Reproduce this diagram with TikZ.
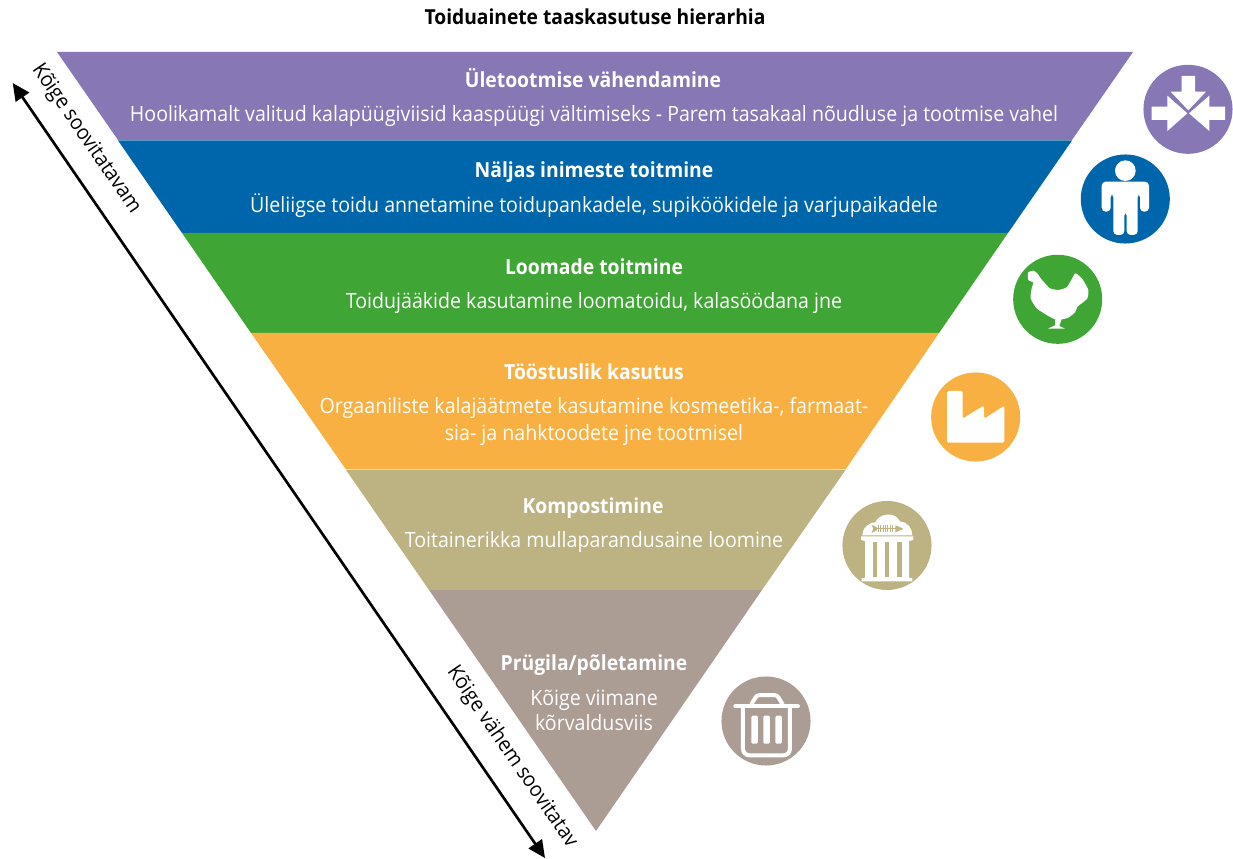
\documentclass[tikz,border=0pt]{standalone}
\usepackage{fontspec}
\setmainfont[FakeStretch=0.93]{Open Sans}
\usetikzlibrary{arrows.meta}
\definecolor{cpurple}{HTML}{8778B5}
\definecolor{cblue}{HTML}{0066AB}
\definecolor{cgreen}{HTML}{3FA535}
\definecolor{corange}{HTML}{F8B042}
\definecolor{ckhaki}{HTML}{BDB281}
\definecolor{ctaupe}{HTML}{AB9C94}
\tikzset{
  head/.style={anchor=base,text=white,font=\fontsize{15.6}{18}\selectfont\bfseries,inner sep=0pt},
  sub/.style={anchor=base,text=white,font=\fontsize{15.8}{18}\selectfont,inner sep=0pt},
  side/.style={text=black,font=\fontsize{15.7}{18}\selectfont,inner sep=0pt,rotate=-55.5},
  badge/.style={circle,inner sep=0pt,minimum size=66.8pt},
  icon/.style={x=.25pt,y=-.25pt},
  ink/.style={fill=white,draw=none},
}
\begin{document}
\begin{tikzpicture}[x=.75pt,y=-.75pt]
\useasboundingbox (0,0) rectangle (1233,859);
% bands
\fill[cpurple] (57,52) -- (1133,52) -- (1072,140) -- (118,140) -- cycle;
\fill[cblue] (118,140.5) -- (1072,140.5) -- (1008,233) -- (182,233) -- cycle;
\fill[cgreen] (182,233) -- (1008,233) -- (939,333) -- (251,333) -- cycle;
\fill[corange] (251,333) -- (939,333) -- (845.5,469.5) -- (346,469.5) -- cycle;
\fill[ckhaki] (346,470) -- (845.5,470) -- (762,590) -- (429,590) -- cycle;
\fill[ctaupe] (429,590) -- (762,590) -- (596,831) -- cycle;
% title
\node[anchor=base,text=black,inner sep=0pt,font=\fontsize{15.5}{18}\selectfont\bfseries] (title) at (595,25) {Toiduainete taaskasutuse hierarhia};
% band texts
\node[head] (h1) at (593,88) {Ületootmise vähendamine};
\node[sub] (s1) at (594,122) {Hoolikamalt valitud kalapüügiviisid kaaspüügi vältimiseks - Parem tasakaal nõudluse ja tootmise vahel};
\node[head] (h2) at (594,178) {Näljas inimeste toitmine};
\node[sub] (s2) at (594,213) {Üleliigse toidu annetamine toidupankadele, supiköökidele ja varjupaikadele};
\node[head] (h3) at (594,275) {Loomade toitmine};
\node[sub] (s3) at (594,309) {Toidujääkide kasutamine loomatoidu, kalasöödana jne};
\node[head] (h4) at (594,380) {Tööstuslik kasutus};
\node[sub] (s4a) at (594,414) {Orgaaniliste kalajäätmete kasutamine kosmeetika-, farmaat-};
\node[sub] (s4b) at (594,441) {sia- ja nahktoodete jne tootmisel};
\node[head] (h5) at (593,513) {Kompostimine};
\node[sub] (s5) at (594,547) {Toitainerikka mullaparandusaine loomine};
\node[head] (h6) at (594,670) {Prügila/põletamine};
\node[sub] (s6a) at (594,705) {Kõige viimane};
\node[sub] (s6b) at (594,730) {kõrvaldusviis};
% side arrow
\coordinate (atop) at (12.7,83);
\coordinate (abot) at (545,858);
\draw[line width=2pt,{Triangle[length=13pt,width=12pt]}-{Triangle[length=13pt,width=12pt]}] (atop) -- (abot);
\node[side] (l1) at (86,139) {Kõige soovitatavam};
\node[side] (l2) at (512,757) {Kõige vähem soovitatav};
% badges
\node[badge,fill=cpurple] (b1) at (1188,109.3) {};
\node[badge,fill=cblue] (b2) at (1125.3,199) {};
\node[badge,fill=cgreen] (b3) at (1057.7,299.3) {};
\node[badge,fill=corange] (b4) at (975.7,417) {};
\node[badge,fill=ckhaki] (b5) at (887,545.5) {};
\node[badge,fill=ctaupe] (b6) at (766,721) {};
% arrows icon
\begin{scope}[shift={(1130,50)},icon]
\fill[ink] (155,78) -- (195,78) -- (195,125) -- (228,125) -- (175,181) -- (122,125) -- (155,125) -- cycle;
\fill[ink] (65,170) -- (112,170) -- (112,137) -- (172,190) -- (112,243) -- (112,210) -- (65,210) -- cycle;
\fill[ink] (285,170) -- (238,170) -- (238,137) -- (177,190) -- (238,243) -- (238,210) -- (285,210) -- cycle;
\end{scope}
% person icon
\begin{scope}[shift={(1070,145)},icon]
\fill[ink] (166,77) circle[radius=31];
\fill[ink,rounded corners=3pt] (95,200) -- (95,110) -- (237,110) -- (237,200) -- (210,200) -- (210,145) -- (203,145) -- (203,270) -- (170,270) -- (170,200) -- (163,200) -- (163,270) -- (130,270) -- (130,145) -- (122,145) -- (122,200) -- cycle;
\end{scope}
% hen icon
\begin{scope}[shift={(1000,250)},icon]
\fill[ink] plot[smooth cycle,tension=.35] coordinates {(84,68) (100,62) (112,70) (122,85) (135,100) (150,115) (175,120) (200,112) (214,90) (226,70) (247,87) (265,120) (262,145) (245,160) (232,170) (226,186) (205,203) (186,208) (165,208) (140,195) (110,175) (92,145) (95,115) (100,98) (85,90)};
\fill[ink] (166,204) -- (186,204) -- (178,228) -- (195,236) -- (144,236) -- (165,226) -- cycle;
\end{scope}
% factory icon
\begin{scope}[shift={(925,370)},icon]
\fill[ink,rounded corners=1pt] (66,63) -- (113,63) -- (113,146) -- (176,107) -- (178,146) -- (238,107) -- (238,218) -- (66,218) -- cycle;
\end{scope}
% temple icon
\begin{scope}[shift={(835,498.8)},icon]
\fill[ink] (82,110) .. controls (82,85) and (105,70) .. (122,70) .. controls (130,45) and (180,35) .. (195,68) .. controls (220,70) and (232,90) .. (232,110) -- cycle;
\fill[ckhaki] (110,78) -- (126,86) -- (126,94) -- (110,102) -- (115,90) -- cycle;
\draw[ckhaki,line width=.6pt] (122,90) -- (185,90);
\foreach \q in {130,137,144,151,158,165,172}{\draw[ckhaki,line width=.45pt] (\q,80) -- (\q,100);}
\fill[ckhaki] (181,79) -- (205,90) -- (181,101) -- cycle;
\fill[ink] (78,113) -- (235,113) -- (235,123) -- (222,127) -- (222,237) -- (232,237) -- (232,248) -- (80,248) -- (80,237) -- (90,237) -- (90,127) -- (78,123) -- cycle;
\fill[ckhaki] (113,129) rectangle (127,236);
\fill[ckhaki] (150,129) rectangle (163,236);
\fill[ckhaki] (186,129) rectangle (200,236);
\end{scope}
% bin icon
\begin{scope}[shift={(715.3,673.7)},icon]
\draw[white,line width=3pt,line cap=round] (60,98) -- (248,98);
\draw[white,line width=3pt,rounded corners=2pt] (108,92) -- (125,64) -- (185,64) -- (202,92);
\draw[white,line width=3pt,rounded corners=5pt] (83,100) -- (83,245) -- (224,245) -- (224,100);
\fill[ink,rounded corners=1pt] (108,126) rectangle (128,210);
\fill[ink,rounded corners=1pt] (144,126) rectangle (164,210);
\fill[ink,rounded corners=1pt] (180,126) rectangle (200,210);
\end{scope}
\end{tikzpicture}
\end{document}
